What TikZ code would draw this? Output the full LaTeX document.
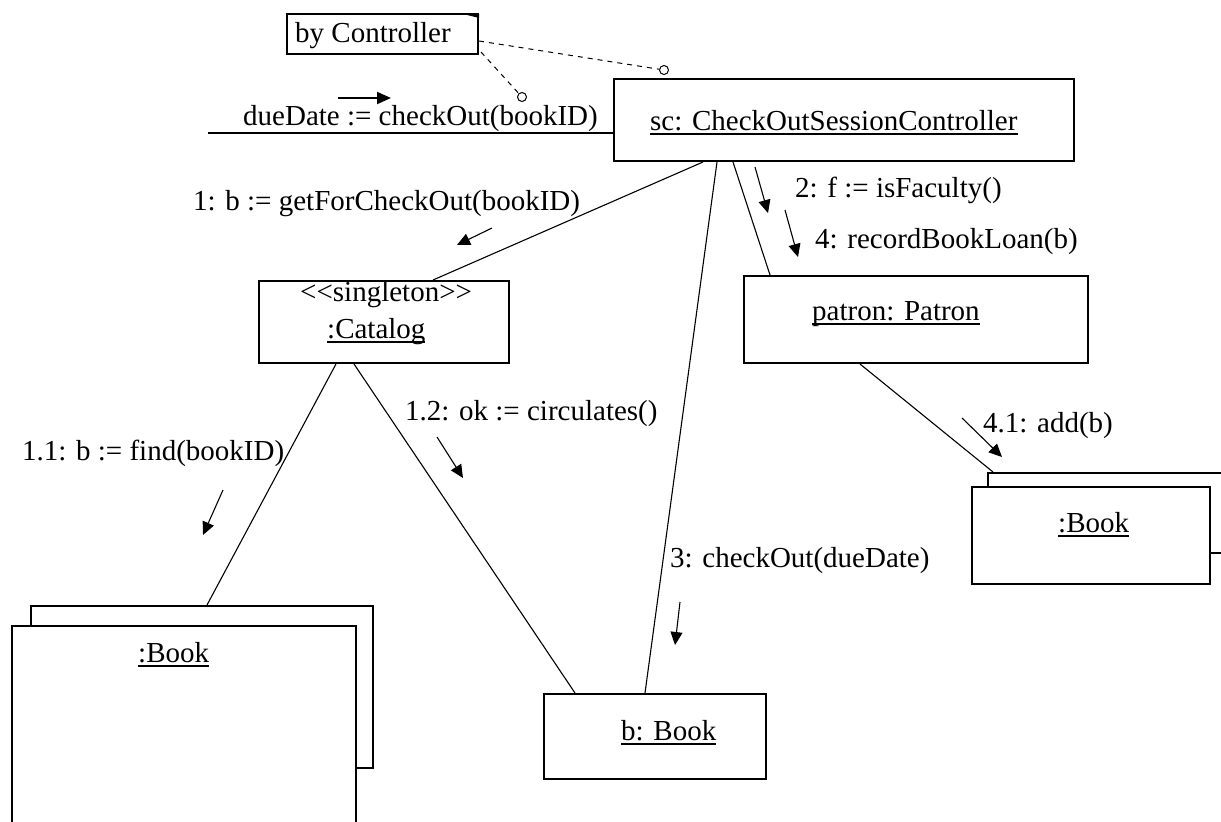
\documentclass[tikz,border=0pt]{standalone}
\usepackage{fontspec}
\setmainfont{Liberation Serif}
\usetikzlibrary{arrows.meta}
\newcommand\myul[1]{\setbox0\hbox{#1}\rlap{\rule[-5pt]{\wd0}{1.6pt}}\box0}
\begin{document}
\begin{tikzpicture}[x=1pt,y=-1pt,
  every node/.style={font=\fontsize{29pt}{34pt}\selectfont},
  obj/.style={draw, line width=2pt, fill=white, inner sep=0pt, anchor=north west},
  lbl/.style={inner sep=0pt, anchor=base west},
  link/.style={line width=1.1pt},
  msg/.style={line width=1.1pt, -{Triangle[length=13pt,width=12pt]}},
  dot/.style={circle, draw, line width=1pt, minimum size=9pt, inner sep=0pt},
  notelink/.style={line width=1pt, dash pattern=on 5pt off 5pt}
  ]
\useasboundingbox (0,0) rectangle (1221,822);

% objects
\node[obj, minimum width=191pt, minimum height=40pt] (note) at (286,13) {};
\node[obj, minimum width=460pt, minimum height=82pt] (sc) at (613,78) {};
\node[obj, minimum width=250pt, minimum height=82pt] (cat) at (258,280) {};
\node[obj, minimum width=344pt, minimum height=87pt] (pat) at (743,275) {};
\node[obj, minimum width=222pt, minimum height=85pt] (bb) at (543,693) {};
\node[obj, minimum width=342pt, minimum height=162pt] (lback) at (30,605) {};
\node[obj, minimum width=344pt, minimum height=215pt] (lfront) at (11,625) {};
\node[obj, minimum width=260pt, minimum height=80pt] (rback) at (987,472) {};
\node[obj, minimum width=238pt, minimum height=97pt] (rfront) at (971,486) {};

% note flag
\fill ([xshift=-20pt]note.north east) -- ([yshift=-1pt]note.north east) -- ([yshift=-5pt]note.north east) -- cycle;

% anchors of the note
\node[dot] (c1) at (664,70) {};
\node[dot] (c2) at (522,97) {};
\draw[notelink] ([yshift=-7pt]note.east) -- (c1);
\draw[notelink] ([xshift=2pt,yshift=3pt]note.south east) -- (c2);

% links
\coordinate (in) at (208,133);
\draw[line width=2pt] (in) -- (sc.west |- in);
\draw[link] ([xshift=90pt]sc.south west) -- ([xshift=175pt]cat.north west);
\draw[link] ([xshift=104pt]sc.south west) -- ([xshift=102pt]bb.north west);
\draw[link] ([xshift=120pt]sc.south west) -- ([xshift=27pt]pat.north west);
\draw[link] ([xshift=78pt]cat.south west) -- ([xshift=177pt]lback.north west);
\draw[link] ([xshift=96pt]cat.south west) -- ([xshift=32pt]bb.north west);
\draw[link] ([xshift=117pt]pat.south west) -- ([xshift=6pt]rback.north west);

% message arrows
\draw[line width=2pt, -{Triangle[length=14pt,width=12pt]}] (338,98) -- (391,98);
\draw[msg] (492,228) -- (457,245);
\draw[msg] (755,167) -- (768,213);
\draw[msg] (785,210) -- (798,257);
\draw[msg] (223,490) -- (203,535);
\draw[msg] (437,437) -- (463,478);
\draw[msg] (680,602) -- (675,645);
\draw[msg] (962,418) -- (1002,457);

% texts
\node[lbl] (tnote) at (295,42) {by Controller};
\node[lbl] (tin) at (243,125) {dueDate := checkOut(bookID)};
\node[lbl] (tsc) at (650,130) {\myul{sc: CheckOutSessionController}};
\node[lbl] (m1) at (193,210) {1: b := getForCheckOut(bookID)};
\node[lbl] (m2) at (795,197) {2: f := isFaculty()};
\node[lbl] (m4) at (815,248) {4: recordBookLoan(b)};
\node[lbl] (tst) at (300,301) {<{}<singleton>{}>};
\node[lbl] (tcat) at (327,338) {\myul{:Catalog}};
\node[lbl] (tpat) at (812,320) {\myul{patron: Patron}};
\node[lbl] (m11) at (22,460) {1.1: b := find(bookID)};
\node[lbl] (m12) at (405,420) {1.2: ok := circulates()};
\node[lbl] (m41) at (983,432) {4.1: add(b)};
\node[lbl] (m3) at (670,567) {3: checkOut(dueDate)};
\node[lbl] (tlb) at (138,662) {\myul{:Book}};
\node[lbl] (tbb) at (621,740) {\myul{b: Book}};
\node[lbl] (trb) at (1058,532) {\myul{:Book}};
\end{tikzpicture}
\end{document}
